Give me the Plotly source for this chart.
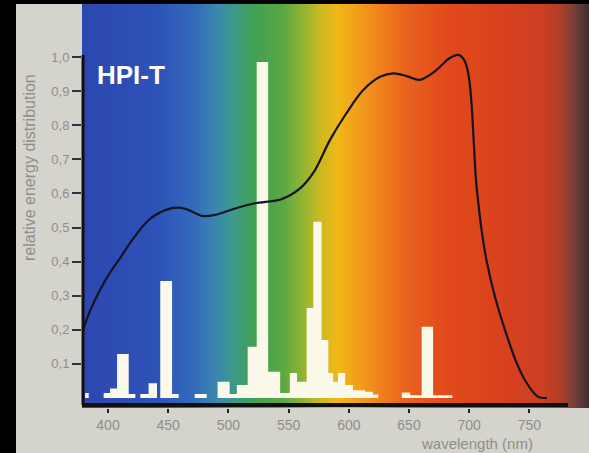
import numpy as np
import plotly.graph_objects as go

# ---- data ----
# continuous spectrum (relative energy distribution)
curve_nm = [378.4, 385, 393.4, 402, 410.2, 420, 433.8, 447.6, 458.7, 467, 478, 489,
            503, 522, 544, 559, 571, 584.4, 598, 612, 626, 637, 648, 659, 673, 683,
            691, 696, 699.2, 701.5, 704, 705.6, 707.6, 710.4, 714.8, 721.4, 729.7,
            739.4, 747.7, 757, 764.6]
curve_rel = [0.191, 0.255, 0.317, 0.37, 0.411, 0.463, 0.522, 0.551, 0.558, 0.551, 0.534, 0.537,
             0.553, 0.571, 0.583, 0.613, 0.663, 0.757, 0.835, 0.903, 0.942, 0.952, 0.944, 0.933, 0.962, 0.995,
             1.006, 0.99, 0.952, 0.884, 0.737, 0.64, 0.571, 0.49, 0.396, 0.297, 0.2,
             0.103, 0.044, 0.004, 0.0]

# line spectrum: left edge of each band (nm) and its relative height
line_edge_nm = [378.4, 381, 384, 396.4, 401.7, 407.5, 417.2, 422.7, 426.8, 433.7, 440.7,
                443.4, 453.2, 458.7, 472, 482, 491, 501, 507, 516, 523.5, 533, 543, 551,
                557, 565, 570.5, 577.4, 583, 587, 591, 597, 603.5, 613.5, 620, 624.5,
                644, 651, 660.5, 670, 686]
line_rel = [0.0, 0.015, 0.0, 0.015, 0.028, 0.129, 0.012, 0.0, 0.012, 0.043, 0.0,
            0.343, 0.012, 0.0, 0.012, 0.0, 0.048, 0.012, 0.038, 0.150, 0.985, 0.077, 0.015, 0.073,
            0.048, 0.264, 0.517, 0.170, 0.073, 0.048, 0.073, 0.038, 0.023, 0.018, 0.010, 0.0,
            0.016, 0.008, 0.209, 0.008, 0.0]

x_ticks = [400, 450, 500, 550, 600, 650, 700, 750]
y_ticks = [0.1, 0.2, 0.3, 0.4, 0.5, 0.6, 0.7, 0.8, 0.9, 1.0]
y_tick_text = ["0,1", "0,2", "0,3", "0,4", "0,5", "0,6", "0,7", "0,8", "0,9", "1,0"]

# background rainbow (wavelength -> colour)
rainbow_nm = [378.4, 440, 470, 490, 505, 520, 545, 560, 575, 590, 610, 630, 650, 680, 720, 760, 775, 785, 792, 799.5]
rainbow_col = ["#2c47b0", "#2e52b8", "#3269bc", "#3a88ae", "#3c9a86", "#3fa054", "#5aa842", "#8cb432",
               "#c8b822", "#f0b818", "#f29a1a", "#f07a1c", "#e8601e", "#e24a1c", "#da421c", "#cc3f22",
               "#b04028", "#804038", "#5a3a36", "#3e2c2c"]

XMIN, XMAX = 378.4, 799.5
YMIN, YMAX = -0.0293, 1.1554

fig = go.Figure()

# rainbow background as a heatmap
lo, hi = rainbow_nm[0], rainbow_nm[-1]
cscale = [[(w - lo) / (hi - lo), c] for w, c in zip(rainbow_nm, rainbow_col)]
bg_x = np.linspace(XMIN, XMAX, 220)
fig.add_trace(go.Heatmap(x=bg_x, y=[-0.2, 1.4], z=[bg_x, bg_x], zmin=lo, zmax=hi,
                         colorscale=cscale, zsmooth="best", showscale=False, hoverinfo="skip"))

# line spectrum as filled steps
fig.add_trace(go.Scatter(x=line_edge_nm, y=line_rel, mode="lines",
                         line=dict(shape="hv", width=0, color="#fbf9ea"),
                         fill="tozeroy", fillcolor="#fbf9ea", hoverinfo="skip", showlegend=False))

# continuous spectrum curve
fig.add_trace(go.Scatter(x=curve_nm, y=curve_rel, mode="lines",
                         line=dict(shape="spline", smoothing=0.9, width=2.2, color="#141420"),
                         showlegend=False))

W, H = 589, 453
ml, mr, mt, mb = 82, 0, 4, 45
pw, ph = W - ml - mr, H - mt - mb

shapes = [
    # black scan borders
    dict(type="rect", xref="paper", yref="paper", x0=-ml / pw, x1=(16 - ml) / pw, y0=-mb / ph, y1=1 + mt / ph,
         fillcolor="black", line=dict(width=0), layer="above"),
    dict(type="rect", xref="paper", yref="paper", x0=-ml / pw, x1=1, y0=1, y1=1 + mt / ph,
         fillcolor="black", line=dict(width=0), layer="above"),
    # axis lines
    dict(type="line", xref="paper", yref="y", x0=0, x1=(568 - ml) / pw, y0=-0.0205, y1=-0.0205,
         line=dict(color="#111111", width=4), layer="above"),
    dict(type="line", xref="paper", yref="y", x0=0.002, x1=0.002, y0=-0.0205, y1=1.006,
         line=dict(color="#111111", width=3), layer="above"),
]

font_main = "Liberation Sans, Arial, sans-serif"
label_col = "#8e8e8a"
fig.update_layout(
    width=W, height=H, autosize=False,
    margin=dict(l=ml, r=mr, t=mt, b=mb, pad=0),
    paper_bgcolor="#d4d4cc", plot_bgcolor="#d4d4cc",
    showlegend=False,
    shapes=shapes,
    xaxis=dict(range=[XMIN, XMAX], tickvals=x_ticks, ticktext=[str(v) for v in x_ticks],
               showgrid=False, zeroline=False, showline=False, ticks="outside", ticklen=4, tickwidth=2,
               tickcolor="#222222", tickfont=dict(family=font_main, size=14, color=label_col)),
    yaxis=dict(range=[YMIN, YMAX], tickvals=y_ticks, ticktext=y_tick_text,
               showgrid=False, zeroline=False, showline=False, ticks="outside", ticklen=9, tickwidth=2,
               tickcolor="#333333", tickfont=dict(family=font_main, size=13, color=label_col)),
    annotations=[
        dict(text="<b>HPI-T</b>", xref="paper", yref="paper", x=(95 - ml) / pw, y=(408 - 75) / ph,
             xanchor="left", yanchor="middle", showarrow=False,
             font=dict(family=font_main, size=26, color="white")),
        dict(text="relative energy distribution", xref="paper", yref="paper", x=(29 - ml) / pw,
             y=(408 - 168) / ph, xanchor="center", yanchor="middle", textangle=-90, showarrow=False,
             font=dict(family=font_main, size=16, color=label_col)),
        dict(text="wavelength (nm)", xref="paper", yref="paper", x=(477 - ml) / pw, y=(408 - 443) / ph,
             xanchor="center", yanchor="middle", showarrow=False,
             font=dict(family=font_main, size=15, color=label_col)),
    ],
)

fig.write_html("out.html", config={"displayModeBar": False},
               post_script="document.body.style.margin='0';document.body.style.overflow='hidden';")
